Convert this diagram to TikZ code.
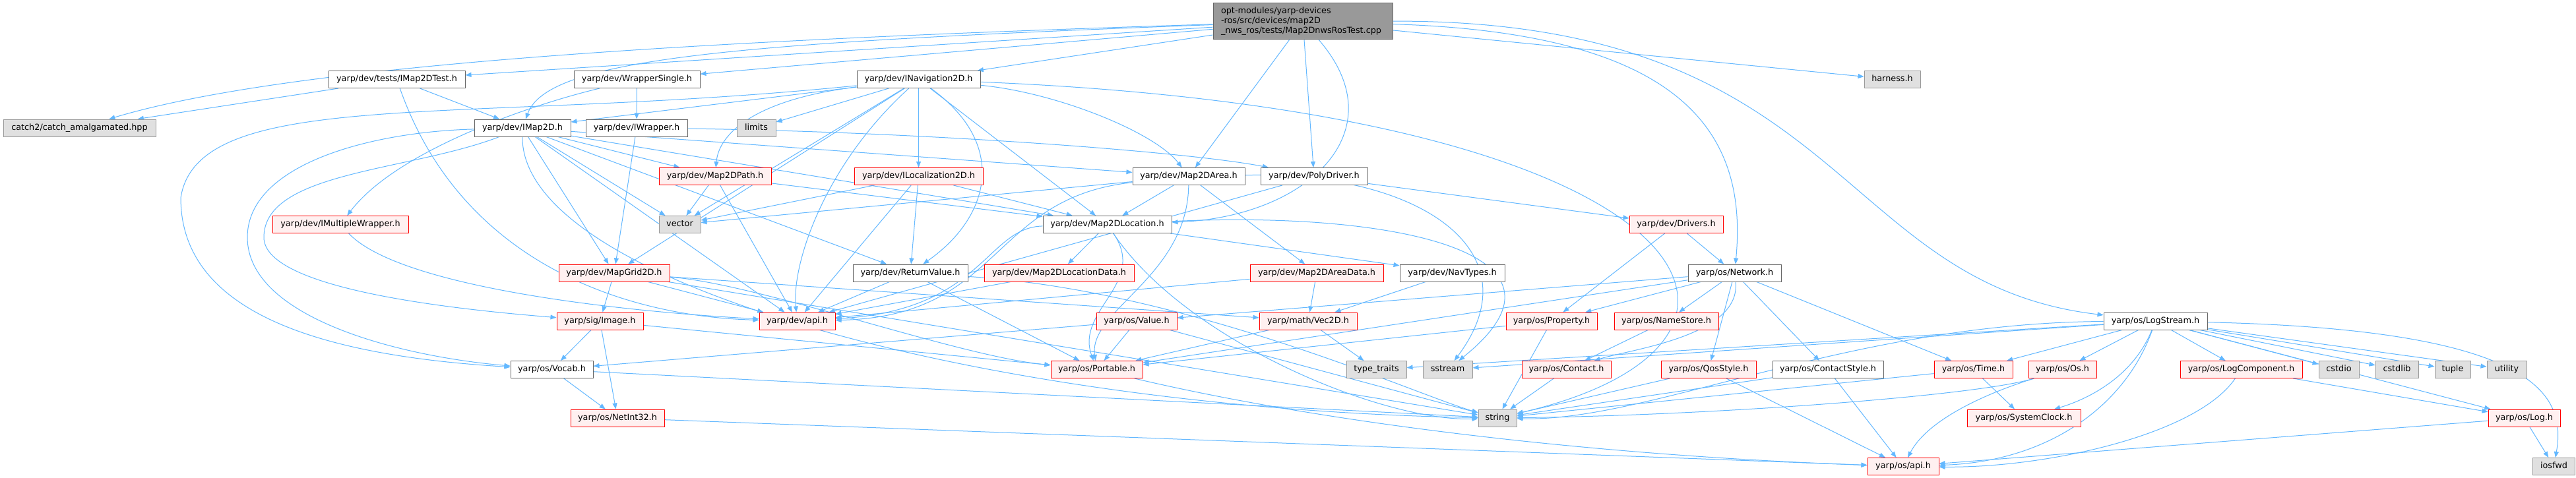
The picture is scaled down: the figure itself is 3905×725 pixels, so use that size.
\documentclass[tikz,border=0pt]{standalone}
\usepackage{fontspec}
\newfontfamily\dejavu{DejaVu Sans}
\usepackage{tikz}
\usetikzlibrary{%
  arrows.meta,
  backgrounds
}
\definecolor{edgeblue}{HTML}{63B8FF}
\definecolor{redfill}{HTML}{FFF0F0}
\definecolor{sysfill}{HTML}{E0E0E0}
\definecolor{sysline}{HTML}{999999}
\definecolor{fileline}{HTML}{666666}
\definecolor{rootfill}{HTML}{999999}

\begin{document}
\begin{tikzpicture}[x=1pt, y=-1pt,
    inc/.style      = {draw=edgeblue, line width=1pt, -{Triangle[length=9pt, width=7pt]}},
    file/.style     = {draw=fileline, fill=white, line width=1pt, inner sep=0pt,
                       minimum height=26pt, text height=9.5pt, text depth=2.8pt,
                       font=\dejavu\fontsize{12.8}{15}\selectfont},
    redfile/.style  = {file, draw=red, fill=redfill},
    sysfile/.style  = {file, draw=sysline, fill=sysfill},
    rootfile/.style = {file, fill=rootfill, minimum height=55pt, inner xsep=12pt,
                       text width=248pt, align=left, text height=, text depth=}]
    \useasboundingbox (0,0) rectangle (3905,725);

    \node[rootfile] (root) at (1975,32.5)
      {opt-modules/yarp-devices\\-ros/src/devices/map2D\\\_nws\_ros/tests/Map2DnwsRosTest.cpp};

    \node[file,    minimum width=207pt] (maptest)   at (601.5,120.5)  {yarp/dev/tests/IMap2DTest.h};
    \node[file,    minimum width=191pt] (wsingle)   at (965.5,120.5)  {yarp/dev/WrapperSingle.h};
    \node[file,    minimum width=187pt] (inav)      at (1392.5,120.5) {yarp/dev/INavigation2D.h};
    \node[sysfile, minimum width=85pt]  (harness)   at (2868.5,120.5) {harness.h};

    \node[sysfile, minimum width=231pt] (catch)     at (120.5,194)    {catch2/catch\_amalgamated.hpp};
    \node[file,    minimum width=146pt] (imap)      at (792,194)      {yarp/dev/IMap2D.h};
    \node[file,    minimum width=154pt] (iwrap)     at (965,194)      {yarp/dev/IWrapper.h};
    \node[sysfile, minimum width=59pt]  (limits)    at (1146.5,194)   {limits};

    \node[redfile, minimum width=170pt] (mpath)     at (1084,267.5)   {yarp/dev/Map2DPath.h};
    \node[redfile, minimum width=195pt] (iloc)      at (1392.5,267.5) {yarp/dev/ILocalization2D.h};
    \node[file,    minimum width=170pt] (marea)     at (1802,267.5)   {yarp/dev/Map2DArea.h};
    \node[file,    minimum width=162pt] (poly)      at (1992,267.5)   {yarp/dev/PolyDriver.h};

    \node[redfile, minimum width=206pt] (imulti)    at (516,340.5)    {yarp/dev/IMultipleWrapper.h};
    \node[sysfile, minimum width=63pt]  (vector)    at (1030.5,340.5) {vector};
    \node[file,    minimum width=195pt] (mloc)      at (1678.5,340.5) {yarp/dev/Map2DLocation.h};
    \node[redfile, minimum width=142pt] (drivers)   at (2541,340.5)   {yarp/dev/Drivers.h};

    \node[redfile, minimum width=168pt] (mgrid)     at (931,414)      {yarp/dev/MapGrid2D.h};
    \node[file,    minimum width=174pt] (retval)    at (1380,414)     {yarp/dev/ReturnValue.h};
    \node[redfile, minimum width=227pt] (mlocdata)  at (1605.5,414)   {yarp/dev/Map2DLocationData.h};
    \node[redfile, minimum width=202pt] (mareadata) at (1996,414)     {yarp/dev/Map2DAreaData.h};
    \node[file,    minimum width=159pt] (navtypes)  at (2201.5,414)   {yarp/dev/NavTypes.h};
    \node[file,    minimum width=141pt] (network)   at (2629.5,414)   {yarp/os/Network.h};

    \node[redfile, minimum width=131pt] (image)     at (909.5,487)    {yarp/sig/Image.h};
    \node[redfile, minimum width=115pt] (devapi)    at (1208.5,487)   {yarp/dev/api.h};
    \node[redfile, minimum width=122pt] (value)     at (1723,487)     {yarp/os/Value.h};
    \node[redfile, minimum width=148pt] (vec)       at (1983,487)     {yarp/math/Vec2D.h};
    \node[redfile, minimum width=138pt] (property)  at (2352,487)     {yarp/os/Property.h};
    \node[redfile, minimum width=158pt] (namestore) at (2526,487)     {yarp/os/NameStore.h};
    \node[file,    minimum width=157pt] (logstream) at (3267.5,487)   {yarp/os/LogStream.h};

    \node[file,    minimum width=125pt] (vocab)     at (836.5,560.5)  {yarp/os/Vocab.h};
    \node[redfile, minimum width=139pt] (portable)  at (1662.5,560.5) {yarp/os/Portable.h};
    \node[sysfile, minimum width=91pt]  (typetraits) at (2086.5,560.5) {type\_traits};
    \node[sysfile, minimum width=75pt]  (sstream)   at (2194.5,560.5) {sstream};
    \node[redfile, minimum width=135pt] (contact)   at (2374.5,560.5) {yarp/os/Contact.h};
    \node[redfile, minimum width=144pt] (qos)       at (2590,560.5)   {yarp/os/QosStyle.h};
    \node[file,    minimum width=168pt] (cstyle)    at (2771,560.5)   {yarp/os/ContactStyle.h};
    \node[redfile, minimum width=119pt] (time)      at (2991.5,560.5) {yarp/os/Time.h};
    \node[redfile, minimum width=103pt] (os)        at (3126.5,560.5) {yarp/os/Os.h};
    \node[redfile, minimum width=185pt] (logcomp)   at (3397.5,560.5) {yarp/os/LogComponent.h};
    \node[sysfile, minimum width=61pt]  (cstdio)    at (3545.5,560.5) {cstdio};
    \node[sysfile, minimum width=65pt]  (cstdlib)   at (3633.5,560.5) {cstdlib};
    \node[sysfile, minimum width=54pt]  (tuple)     at (3718,560.5)   {tuple};
    \node[sysfile, minimum width=60pt]  (utility)   at (3800,560.5)   {utility};

    \node[redfile, minimum width=142pt] (netint)    at (936,634)      {yarp/os/NetInt32.h};
    \node[sysfile, minimum width=58pt]  (string)    at (2270,634)     {string};
    \node[redfile, minimum width=172pt] (sysclock)  at (3068,634)     {yarp/os/SystemClock.h};
    \node[redfile, minimum width=109pt] (log)       at (3826.5,634)   {yarp/os/Log.h};

    \node[redfile, minimum width=108pt] (osapi)     at (2885,707.5)   {yarp/os/api.h};
    \node[sysfile, minimum width=64pt]  (iosfwd)    at (3871.5,707.5) {iosfwd};

    \begin{scope}[on background layer]
    \fill[white] (0,0) rectangle (3905,725);

    \foreach \a/\b in {root/maptest, root/wsingle, root/inav, root/harness, root/marea, root/poly,
        maptest/catch, maptest/imap, wsingle/iwrap, iwrap/mgrid,
        imap/mgrid, imap/devapi, imap/retval, imap/vector, imap/mpath, imap/marea, imap/mloc,
        inav/imap, inav/limits, inav/iloc, inav/mloc, inav/vector, inav/mgrid,
        mpath/vector, mpath/mloc, mpath/devapi,
        iloc/vector, iloc/retval, iloc/mloc, iloc/devapi,
        marea/mloc, marea/mareadata, marea/vector,
        poly/drivers, poly/devapi,
        mloc/mlocdata, mloc/navtypes, drivers/network, drivers/property,
        mgrid/image, mgrid/devapi, mgrid/string, mgrid/vec,
        retval/devapi, retval/portable, mlocdata/devapi,
        mareadata/vec, mareadata/devapi, navtypes/vec,
        network/property, network/namestore, network/qos, network/cstyle,
        network/time, network/value, network/portable,
        image/vocab, image/netint, image/portable,
        value/portable, value/vocab, value/string,
        vec/typetraits, vec/portable, property/string, property/portable,
        namestore/contact,
        logstream/time, logstream/os, logstream/logcomp, logstream/cstdio, logstream/cstdlib,
        logstream/tuple, logstream/utility, logstream/sstream, logstream/typetraits, logstream/log,
        vocab/netint, vocab/string, contact/string,
        qos/string, qos/osapi, cstyle/string, cstyle/osapi,
        time/sysclock, time/string, logcomp/log,
        netint/osapi, log/osapi, log/iosfwd}
      \draw[inc] (\a) -- (\b);

    \draw[inc] (root) .. controls (1100,60) and (450,95) .. (catch);
    \draw[inc] (root) .. controls (1100,65) and (830,90) .. (imap);
    \draw[inc] (root) .. controls (2120,200) and (1980,330) .. (mloc);
    \draw[inc] (root) .. controls (2550,50) and (2650,200) .. (network);
    \draw[inc] (root) .. controls (2800,30) and (2780,430) .. (logstream);
    \draw[inc] (maptest) .. controls (700,400) and (950,480) .. (devapi);
    \draw[inc] (wsingle) .. controls (800,160) and (600,230) .. (imulti);
    \draw[inc] (iwrap) .. controls (1400,200) and (1800,230) .. (poly);
    \draw[inc] (imulti) .. controls (600,430) and (900,470) .. (devapi);
    \draw[inc] (imap) .. controls (560,200) and (375,250) .. (375,360)
                      .. controls (375,480) and (600,540) .. (vocab);
    \draw[inc] (imap) .. controls (620,260) and (400,260) .. (400,360)
                      .. controls (400,440) and (700,470) .. (image);
    \draw[inc] (imap) .. controls (790,430) and (1500,620) .. (string);
    \draw[inc] (inav) .. controls (700,190) and (300,130) .. (274,300)
                      .. controls (274,480) and (500,540) .. (vocab);
    \draw[inc] (inav) .. controls (1150,150) and (1090,200) .. (mpath);
    \draw[inc] (inav) .. controls (1600,140) and (1750,200) .. (marea);
    \draw[inc] (inav) .. controls (1530,220) and (1500,330) .. (retval);
    \draw[inc] (inav) .. controls (1250,250) and (1200,400) .. (devapi);
    \draw[inc] (inav) .. controls (2600,170) and (2760,520) .. (string);
    \draw[inc] (marea) .. controls (1500,300) and (1520,480) .. (devapi);
    \draw[inc] (marea) .. controls (1800,420) and (1650,470) .. (portable);
    \draw[inc] (marea) .. controls (2150,260) and (2330,380) .. (sstream);
    \draw[inc] (mloc) .. controls (1495,345) and (1490,470) .. (devapi);
    \draw[inc] (mloc) .. controls (1740,430) and (1630,470) .. (portable);
    \draw[inc] (mloc) .. controls (1800,520) and (2100,640) .. (string);
    \draw[inc] (mloc) .. controls (2100,320) and (2420,380) .. (sstream);
    \draw[inc] (mgrid) .. controls (1150,430) and (1450,540) .. (portable);
    \draw[inc] (retval) .. controls (1800,440) and (2150,600) .. (string);
    \draw[inc] (network) .. controls (2640,510) and (2470,530) .. (contact);
    \draw[inc] (logstream) .. controls (2800,490) and (2500,640) .. (string);
    \draw[inc] (logstream) .. controls (3850,500) and (3890,600) .. (iosfwd);
    \draw[inc] (logstream) .. controls (3230,580) and (3150,610) .. (sysclock);
    \draw[inc] (logstream) .. controls (3220,620) and (3100,700) .. (osapi);
    \draw[inc] (os) .. controls (3000,600) and (2920,640) .. (osapi);
    \draw[inc] (os) .. controls (3000,600) and (2600,630) .. (string);
    \draw[inc] (logcomp) .. controls (3330,660) and (3100,710) .. (osapi);
    \draw[inc] (portable) .. controls (2000,640) and (2400,690) .. (osapi);
    \end{scope}
\end{tikzpicture}
\end{document}
